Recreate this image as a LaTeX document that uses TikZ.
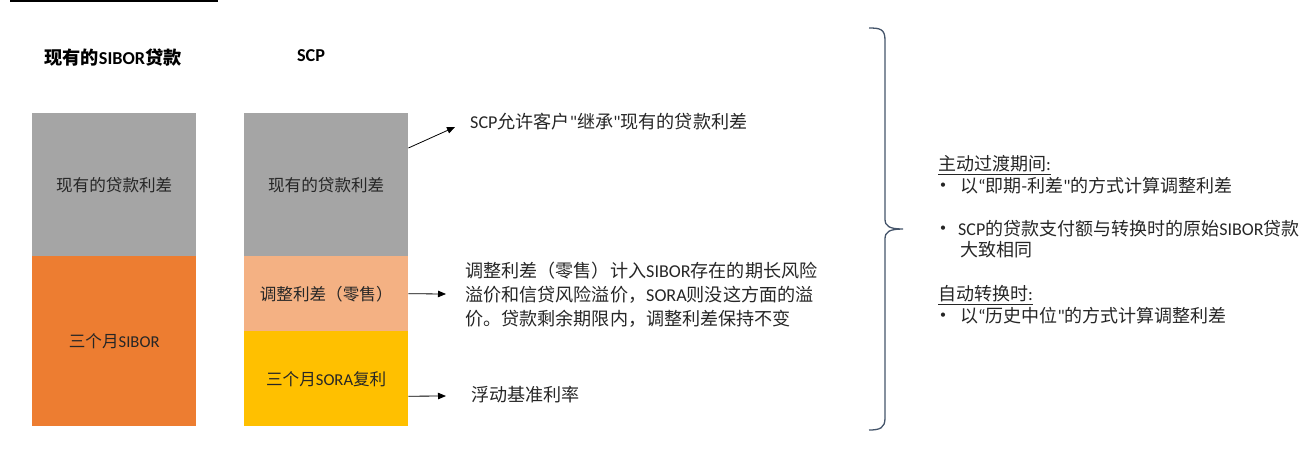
\documentclass[tikz,border=0pt]{standalone}
\usepackage{fontspec}
\setmainfont{Noto Sans CJK SC}
\newfontfamily\latf{Carlito}
\newcommand\lt[1]{{\latf #1}}
\usetikzlibrary{arrows.meta}
\definecolor{bargray}{HTML}{A5A5A5}
\definecolor{barorange}{HTML}{ED7D31}
\definecolor{barlight}{HTML}{F4B183}
\definecolor{baryellow}{HTML}{FFC000}
\definecolor{bracecol}{HTML}{44546A}
\definecolor{txt}{HTML}{262626}
\tikzset{
  seg/.style={draw=none, inner sep=0pt, anchor=north west, text=txt,
    font=\fontsize{16.6}{20}\selectfont, minimum width=164pt},
  title/.style={inner sep=0pt, text=black, font=\fontsize{18.2}{20}\selectfont\bfseries},
  lbl/.style={inner sep=0pt, anchor=west, text=txt, align=left,
    font=\fontsize{18.1}{24}\selectfont},
  rl/.style={inner sep=0pt, anchor=west, text=txt,
    font=\fontsize{18}{21}\selectfont},
  bul/.style={inner sep=0pt, text=txt, font=\fontsize{12}{14}\selectfont},
  arr/.style={draw=black, line width=0.8pt, -{Triangle[length=8pt,width=6.5pt]}},
}
\begin{document}
\begin{tikzpicture}[x=1pt,y=-1pt]
\useasboundingbox (0,0) rectangle (1304,475);
% top rule
\draw[line width=1.5pt] (10,1) -- (218,1);
% titles
\node[title] (tl) at (113,58) {现有的\lt{SIBOR}贷款};
\node[title] (tr) at (311,56) {\lt{SCP}};
% left bar
\node[seg, fill=bargray, minimum height=143pt] (l1) at (32,113) {现有的贷款利差};
\node[seg, fill=barorange, minimum height=170pt] (l2) at (32,256) {三个月\lt{SIBOR}};
% right bar
\node[seg, fill=bargray, minimum height=143pt] (r1) at (244,113) {现有的贷款利差};
\node[seg, fill=barlight, minimum height=75pt] (r2) at (244,256) {调整利差（零售）};
\node[seg, fill=baryellow, minimum height=95pt] (r3) at (244,331) {三个月\lt{SORA}复利};
% explanation labels
\node[lbl] (t1) at (470,122) {\lt{SCP}允许客户\lt{"}继承\lt{"}现有的贷款利差};
\node[lbl] (t2) at (465,295) {调整利差（零售）计入\lt{SIBOR}存在的期长风险\\溢价和信贷风险溢价，\lt{SORA}则没这方面的溢\\价。贷款剩余期限内，调整利差保持不变};
\node[lbl] (t3) at (471,395) {浮动基准利率};
% arrows
\coordinate (a1) at (455,127);
\coordinate (a2) at (446,294);
\coordinate (a3) at (446,396);
\draw[arr] ([yshift=-35pt]r1.north east) -- (a1);
\draw[arr] (r2.east) -- (a2);
\draw[arr] ([yshift=-17.5pt]r3.east) -- (a3);
% brace
\draw[bracecol, line width=1.3pt]
  (869,28) .. controls (880,28) and (885,29) .. (885,40)
  -- (885,219) .. controls (885,226) and (889,229) .. (903,229)
  .. controls (889,229) and (885,232) .. (885,239)
  -- (885,418) .. controls (885,428) and (880,430) .. (869,430);
% right text
\node[rl] (h1) at (938,165) {\underline{主动过渡期间\lt{:}}};
\node[bul] (b1) at (943,186) {\lt{•}};
\node[rl] (s1) at (960,186) {以\lt{“}即期\lt{-}利差\lt{"}的方式计算调整利差};
\node[bul] (b2) at (943,229) {\lt{•}};
\node[rl] (s2) at (958,229) {\lt{SCP}的贷款支付额与转换时的原始\lt{SIBOR}贷款};
\node[rl] (s3) at (960,250) {大致相同};
\node[rl] (h2) at (938,295) {\underline{自动转换时\lt{:}}};
\node[bul] (b3) at (943,316) {\lt{•}};
\node[rl] (s4) at (960,316) {以\lt{“}历史中位\lt{"}的方式计算调整利差};
\end{tikzpicture}
\end{document}
